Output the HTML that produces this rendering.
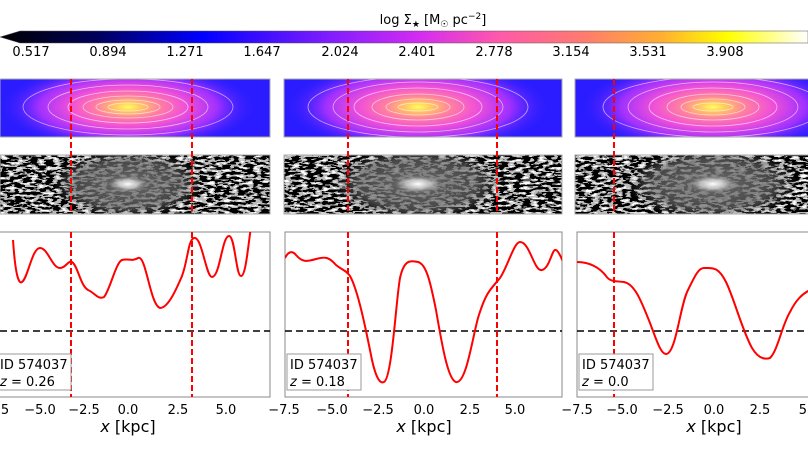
<!DOCTYPE html>
<html><head><meta charset="utf-8"><style>
body{margin:0;background:#fff;width:808px;height:455px;overflow:hidden}
svg{display:block;font-family:"DejaVu Sans","Liberation Sans",sans-serif}
</style></head><body>
<svg width="808" height="455" viewBox="0 0 808 455" xmlns="http://www.w3.org/2000/svg">
<defs>
<linearGradient id="cb" x1="0" x2="1">
<stop offset="0" stop-color="#000"/><stop offset="0.12" stop-color="#00005a"/><stop offset="0.25" stop-color="#0000ff"/>
<stop offset="0.4" stop-color="#7a1cff"/><stop offset="0.52" stop-color="#d42cf0"/><stop offset="0.62" stop-color="#ff5aa8"/>
<stop offset="0.72" stop-color="#ff7a70"/><stop offset="0.82" stop-color="#ffb030"/><stop offset="0.9" stop-color="#ffff00"/><stop offset="1" stop-color="#fff"/>
</linearGradient>
<radialGradient id="gal" cx="0.5" cy="0.5" r="0.5">
<stop offset="0" stop-color="#ffff60"/><stop offset="0.1" stop-color="#ffc860"/><stop offset="0.25" stop-color="#ff80a0"/>
<stop offset="0.45" stop-color="#f050d8"/><stop offset="0.7" stop-color="#a030ff"/><stop offset="1" stop-color="#3020ff" stop-opacity="0"/>
</radialGradient>
<radialGradient id="core" cx="0.5" cy="0.5" r="0.5">
<stop offset="0" stop-color="#fff" stop-opacity="1"/><stop offset="0.5" stop-color="#ddd" stop-opacity="0.7"/><stop offset="1" stop-color="#888" stop-opacity="0"/>
</radialGradient>
<radialGradient id="gray" cx="0.5" cy="0.5" r="0.5">
<stop offset="0" stop-color="#777" stop-opacity="0.9"/><stop offset="0.7" stop-color="#666" stop-opacity="0.7"/><stop offset="1" stop-color="#666" stop-opacity="0"/>
</radialGradient>
<filter id="noise" x="0" y="0" width="100%" height="100%">
<feTurbulence type="fractalNoise" baseFrequency="0.13 0.4" numOctaves="2" seed="7"/>
<feColorMatrix type="matrix" values="0 0 0 1 0 0 0 0 1 0 0 0 0 1 0 0 0 0 0 1"/>
<feComponentTransfer><feFuncR type="discrete" tableValues="0 0 0 0.5 1 1"/><feFuncG type="discrete" tableValues="0 0 0 0.5 1 1"/><feFuncB type="discrete" tableValues="0 0 0 0.5 1 1"/><feFuncA type="linear" slope="0" intercept="1"/></feComponentTransfer>
</filter>
<clipPath id="m1"><rect x="0" y="79" width="270" height="58"/></clipPath>
<clipPath id="m2"><rect x="284" y="79" width="278" height="58"/></clipPath>
<clipPath id="m3"><rect x="575" y="79" width="233" height="58"/></clipPath>
<clipPath id="r1"><rect x="0" y="155" width="270" height="59"/></clipPath>
<clipPath id="r2"><rect x="284" y="155" width="278" height="59"/></clipPath>
<clipPath id="r3"><rect x="575" y="155" width="233" height="59"/></clipPath>
<clipPath id="c1"><rect x="0" y="232" width="270" height="165"/></clipPath>
<clipPath id="c2"><rect x="285" y="232" width="277" height="165"/></clipPath>
<clipPath id="c3"><rect x="577" y="232" width="231" height="165"/></clipPath>
</defs>
<text x="433" y="24" font-size="13" text-anchor="middle">log Σ<tspan font-size="9" dy="3">★</tspan><tspan dy="-3"> [M</tspan><tspan font-size="9" dy="3">☉</tspan><tspan dy="-3"> pc</tspan><tspan font-size="9" dy="-5">−2</tspan><tspan dy="5">]</tspan></text>
<polygon points="0,37 20,31 808,31 808,43 20,43" fill="url(#cb)" stroke="#555" stroke-width="0.5"/>
<g font-size="13" text-anchor="middle">
<text x="31" y="56">0.517</text><text x="108" y="56">0.894</text><text x="185" y="56">1.271</text><text x="262" y="56">1.647</text><text x="340" y="56">2.024</text><text x="417" y="56">2.401</text><text x="494" y="56">2.778</text><text x="571" y="56">3.154</text><text x="648" y="56">3.531</text><text x="725" y="56">3.908</text>
</g>
<g clip-path="url(#m1)">
<rect x="0" y="79" width="270" height="58" fill="#2a1cff"/>
<ellipse cx="128" cy="107" rx="128" ry="44" fill="url(#gal)"/>
<g fill="none" stroke="#fff" stroke-opacity="0.6" stroke-width="0.8">
<ellipse cx="128" cy="107" rx="20" ry="4"/><ellipse cx="128" cy="107" rx="32" ry="7"/><ellipse cx="128" cy="107" rx="45" ry="11"/><ellipse cx="128" cy="107" rx="60" ry="16"/><ellipse cx="128" cy="107" rx="80" ry="22"/><ellipse cx="128" cy="107" rx="105" ry="28"/></g>
</g>
<g clip-path="url(#m2)">
<rect x="284" y="79" width="278" height="58" fill="#2a1cff"/>
<ellipse cx="418" cy="107" rx="132" ry="46" fill="url(#gal)"/>
<g fill="none" stroke="#fff" stroke-opacity="0.6" stroke-width="0.8">
<ellipse cx="418" cy="107" rx="20" ry="4"/><ellipse cx="418" cy="107" rx="32" ry="8"/><ellipse cx="418" cy="107" rx="46" ry="13"/><ellipse cx="418" cy="107" rx="64" ry="19"/><ellipse cx="418" cy="107" rx="85" ry="25"/><ellipse cx="418" cy="107" rx="110" ry="30"/></g>
</g>
<g clip-path="url(#m3)">
<rect x="575" y="79" width="233" height="58" fill="#2a1cff"/>
<ellipse cx="713" cy="107" rx="132" ry="46" fill="url(#gal)"/>
<g fill="none" stroke="#fff" stroke-opacity="0.6" stroke-width="0.8">
<ellipse cx="713" cy="107" rx="20" ry="4"/><ellipse cx="713" cy="107" rx="32" ry="8"/><ellipse cx="713" cy="107" rx="46" ry="13"/><ellipse cx="713" cy="107" rx="64" ry="19"/><ellipse cx="713" cy="107" rx="85" ry="25"/><ellipse cx="713" cy="107" rx="110" ry="30"/></g>
</g>
<g fill="none" stroke="#aaa">
<rect x="0" y="79" width="270" height="58"/><rect x="284" y="79" width="278" height="58"/><rect x="575" y="79" width="240" height="58"/>
</g>
<g clip-path="url(#r1)">
<rect x="0" y="155" width="270" height="59" filter="url(#noise)"/>
<ellipse cx="128" cy="184" rx="75" ry="34" fill="url(#gray)"/><ellipse cx="128" cy="184" rx="20" ry="8" fill="url(#core)"/>
</g>
<g clip-path="url(#r2)">
<rect x="284" y="155" width="278" height="59" filter="url(#noise)"/>
<ellipse cx="418" cy="184" rx="85" ry="36" fill="url(#gray)"/><ellipse cx="418" cy="184" rx="25" ry="9" fill="url(#core)"/>
</g>
<g clip-path="url(#r3)">
<rect x="575" y="155" width="233" height="59" filter="url(#noise)"/>
<ellipse cx="713" cy="184" rx="85" ry="36" fill="url(#gray)"/><ellipse cx="713" cy="184" rx="25" ry="9" fill="url(#core)"/>
</g>
<g fill="none" stroke="#aaa">
<rect x="0" y="155" width="270" height="59"/><rect x="284" y="155" width="278" height="59"/><rect x="575" y="155" width="240" height="59"/>
</g>
<g stroke="#f00" stroke-width="2" stroke-dasharray="6,3">
<line x1="71" y1="79" x2="71" y2="214"/><line x1="192" y1="79" x2="192" y2="214"/>
<line x1="348" y1="79" x2="348" y2="214"/><line x1="497" y1="79" x2="497" y2="214"/>
<line x1="614" y1="79" x2="614" y2="214"/>
</g>
<g fill="none" stroke="#888">
<rect x="-5" y="232" width="275" height="165"/><rect x="285" y="232" width="277" height="165"/><rect x="577" y="232" width="240" height="165"/>
</g>
<g stroke="#000" stroke-width="1.6" stroke-dasharray="7,4">
<line x1="0" y1="331" x2="270" y2="331"/><line x1="285" y1="331" x2="562" y2="331"/><line x1="577" y1="331" x2="808" y2="331"/>
</g>
<g fill="none" stroke="#f00" stroke-width="2" stroke-linejoin="round">
<path clip-path="url(#c1)" d="M13,240 C15,270 18,285 22,282 C28,278 32,248 40,248 C48,248 52,268 60,268 C66,268 68,260 72,262 C78,266 80,285 88,290 C95,293 98,300 104,297 C110,290 116,262 122,260 C128,258 132,262 138,258 C146,254 150,305 160,308 C168,308 176,290 182,276 C188,260 188,240 194,238 C202,236 206,277 212,277 C220,277 222,236 229,236 C235,236 236,276 241,276 C246,276 248,245 252,220"/>
<path clip-path="url(#c2)" d="M285,258 C288,252 292,250 296,255 C302,262 306,262 316,259 C326,256 330,258 336,265 C342,270 346,270 350,276 C358,290 366,330 372,360 C376,378 380,384 384,382 C392,378 396,300 400,278 C404,260 410,260 418,262 C426,264 430,280 436,310 C442,345 448,380 456,382 C466,384 472,340 478,318 C486,292 490,290 500,278 C508,266 514,242 520,242 C530,242 534,272 542,270 C550,268 552,248 556,250 C560,252 562,262 564,262"/>
<path clip-path="url(#c3)" d="M577,262 C590,262 600,268 606,276 C610,282 616,281 624,282 C634,284 640,298 648,318 C655,335 660,354 666,354 C676,354 680,305 688,290 C694,278 698,268 704,268 C712,268 718,266 726,282 C734,298 742,330 752,348 C758,358 764,360 770,358 C778,350 782,325 790,312 C796,300 802,294 810,290"/>
</g>
<g stroke="#f00" stroke-width="2" stroke-dasharray="6,3">
<line x1="71" y1="232" x2="71" y2="397"/><line x1="192" y1="232" x2="192" y2="397"/>
<line x1="348" y1="232" x2="348" y2="397"/><line x1="497" y1="232" x2="497" y2="397"/>
<line x1="614" y1="232" x2="614" y2="397"/>
</g>
<g font-size="13">
<rect x="-3" y="354" width="74" height="36" fill="#fff" stroke="#999"/>
<text x="0" y="369">ID 574037</text><text x="0" y="386"><tspan font-style="italic">z</tspan> = 0.26</text>
<rect x="287" y="354" width="74" height="36" fill="#fff" stroke="#999"/>
<text x="290" y="369">ID 574037</text><text x="290" y="386"><tspan font-style="italic">z</tspan> = 0.18</text>
<rect x="579" y="354" width="74" height="36" fill="#fff" stroke="#999"/>
<text x="582" y="369">ID 574037</text><text x="582" y="386"><tspan font-style="italic">z</tspan> = 0.0</text>
</g>
<g font-size="13" text-anchor="middle">
<text x="3" y="414">.5</text><text x="40" y="414">−5.0</text><text x="84" y="414">−2.5</text><text x="128" y="414">0.0</text><text x="178" y="414">2.5</text><text x="226" y="414">5.0</text>
<text x="284" y="414">−7.5</text><text x="332" y="414">−5.0</text><text x="378" y="414">−2.5</text><text x="424" y="414">0.0</text><text x="470" y="414">2.5</text><text x="515" y="414">5.0</text>
<text x="577" y="414">−7.5</text><text x="622" y="414">−5.0</text><text x="668" y="414">−2.5</text><text x="714" y="414">0.0</text><text x="760" y="414">2.5</text><text x="805" y="414">5.</text>
</g>
<g font-size="16" text-anchor="middle">
<text x="128" y="432"><tspan font-style="italic">x</tspan> [kpc]</text>
<text x="424" y="432"><tspan font-style="italic">x</tspan> [kpc]</text>
<text x="714" y="432"><tspan font-style="italic">x</tspan> [kpc]</text>
</g>
</svg>
</body></html>
